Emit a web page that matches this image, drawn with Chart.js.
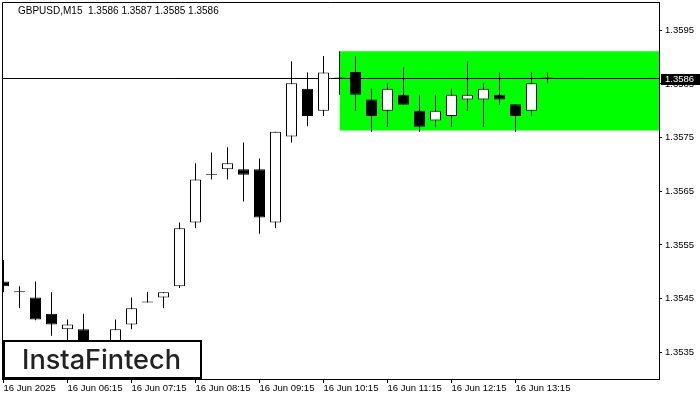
<!DOCTYPE html>
<html><head><meta charset="utf-8">
<script src="https://cdn.jsdelivr.net/npm/chart.js@4/dist/chart.umd.min.js"></script>
<style>html,body{margin:0;padding:0;background:#fff;}#wrap{width:700px;height:400px;}</style>
</head><body><div id="wrap"><canvas id="c" width="700" height="400"></canvas></div>
<script>
const symbolTitle = "GBPUSD,M15  1.3586 1.3587 1.3585 1.3586";
const times = ["05:15","05:30","05:45","06:00","06:15","06:30","06:45","07:00","07:15","07:30","07:45","08:00",
  "08:15","08:30","08:45","09:00","09:15","09:30","09:45","10:00","10:15","10:30","10:45","11:00",
  "11:15","11:30","11:45","12:00","12:15","12:30","12:45","13:00","13:15","13:30","13:45"];
const open  = [1.35482,1.35462,1.35452,1.35422,1.35393,1.35393,1.35365,1.35355,1.35402,1.35443,1.35452,1.35473,
  1.35592,1.35681,1.35691,1.35691,1.35691,1.35592,1.35752,1.35841,1.35800,1.35860,1.35872,1.35821,
  1.35800,1.35830,1.35800,1.35782,1.35790,1.35821,1.35821,1.35830,1.35812,1.35800,1.35860];
const high  = [1.35522,1.35473,1.35482,1.35462,1.35411,1.35422,1.35372,1.35411,1.35452,1.35463,1.35462,1.35592,
  1.35702,1.35722,1.35732,1.35741,1.35711,1.35761,1.35892,1.35871,1.35902,1.35911,1.35902,1.35841,
  1.35851,1.35881,1.35830,1.35830,1.35841,1.35892,1.35851,1.35871,1.35812,1.35871,1.35871];
const low   = [1.35462,1.35432,1.35410,1.35381,1.35365,1.35350,1.35335,1.35345,1.35393,1.35443,1.35432,1.35470,
  1.35581,1.35672,1.35672,1.35631,1.35571,1.35581,1.35741,1.35771,1.35790,1.35830,1.35800,1.35761,
  1.35770,1.35811,1.35761,1.35770,1.35770,1.35800,1.35770,1.35811,1.35761,1.35790,1.35851];
const close = [1.35473,1.35462,1.35411,1.35402,1.35402,1.35365,1.35350,1.35393,1.35432,1.35443,1.35462,1.35581,
  1.35672,1.35681,1.35702,1.35681,1.35601,1.35761,1.35851,1.35790,1.35871,1.35860,1.35830,1.35790,
  1.35841,1.35811,1.35770,1.35800,1.35830,1.35830,1.35841,1.35821,1.35790,1.35851,1.35860];
const xTickIndex  = [0,4,8,12,16,20,24,28,32];
const xTickLabels = ["16 Jun 2025","16 Jun 06:15","16 Jun 07:15","16 Jun 08:15","16 Jun 09:15",
  "16 Jun 10:15","16 Jun 11:15","16 Jun 12:15","16 Jun 13:15"];
const yTickValues = [1.3595,1.3585,1.3575,1.3565,1.3555,1.3545,1.3535];
const zoneStartIndex = 21;
const zoneTop = 1.35911;
const zoneBottom = 1.35763;
const bidPrice = 1.3586;
const bidLabel = "1.3586";
const logoText = "InstaFintech";

const X_MIN = -0.09375, X_MAX = 40.96875;
const Y_MIN = 1.353004, Y_MAX = 1.360025;
const FONT = "'Liberation Sans', Arial, sans-serif";

const wickData = times.map((t, i) => ({x: i, y: [low[i], high[i]]}));
const bodyData = times.map((t, i) => ({x: i, y: [open[i], close[i]]}));
const bodyColors = times.map((t, i) => close[i] > open[i] ? '#ffffff' : '#000000');

function noPad(s) { s.paddingTop = 0; s.paddingBottom = 0; s.paddingLeft = 0; s.paddingRight = 0; }

const overlay = {
  id: 'overlay',
  beforeDraw(chart) {
    const ctx = chart.ctx;
    ctx.save(); ctx.fillStyle = '#fff'; ctx.fillRect(0, 0, chart.width, chart.height); ctx.restore();
  },
  afterDraw(chart) {
    const ctx = chart.ctx, a = chart.chartArea, ys = chart.scales.y;
    ctx.save();
    ctx.strokeStyle = '#000'; ctx.lineWidth = 1;
    ctx.beginPath();
    ctx.moveTo(a.left + 0.5, a.bottom); ctx.lineTo(a.left + 0.5, a.top + 0.5); ctx.lineTo(a.right, a.top + 0.5);
    ctx.stroke();
    ctx.fillStyle = '#000'; ctx.font = '10px ' + FONT; ctx.textBaseline = 'middle'; ctx.textAlign = 'left';
    ctx.fillText(symbolTitle, 18, 11);
    const py = ys.getPixelForValue(bidPrice);
    ctx.fillStyle = '#000'; ctx.fillRect(a.right + 2, Math.round(py) - 5, 39, 11);
    ctx.fillStyle = '#fff'; ctx.font = '9.5px ' + FONT;
    ctx.fillText(bidLabel, a.right + 6, Math.round(py) + 0.5);
    ctx.fillStyle = '#fff'; ctx.fillRect(3, 340, 199, 39);
    ctx.strokeStyle = '#000'; ctx.lineWidth = 2; ctx.strokeRect(4, 341, 197, 37);
    let fs = 26; ctx.font = '500 ' + fs + 'px Inter, Roboto, sans-serif';
    const w = ctx.measureText(logoText).width; fs = fs * 159 / w;
    ctx.font = '500 ' + fs.toFixed(2) + 'px Inter, Roboto, sans-serif';
    ctx.fillStyle = '#222'; ctx.textBaseline = 'alphabetic';
    ctx.fillText(logoText, 22, 369);
    ctx.restore();
  }
};

new Chart(document.getElementById('c'), {
  type: 'bar',
  data: {
    datasets: [
      {type: 'line', label: 'zoneTop', data: [{x: zoneStartIndex, y: zoneTop}, {x: X_MAX, y: zoneTop}],
       fill: '+1', backgroundColor: '#00ff00', borderWidth: 0, pointRadius: 0, order: 10},
      {type: 'line', label: 'zoneBottom', data: [{x: zoneStartIndex, y: zoneBottom}, {x: X_MAX, y: zoneBottom}],
       fill: false, borderWidth: 0, pointRadius: 0, order: 9},
      {type: 'line', label: 'bid', data: [{x: X_MIN, y: bidPrice}, {x: X_MAX, y: bidPrice}],
       borderColor: '#000', borderWidth: 1, pointRadius: 0, fill: false, order: 5},
      {type: 'bar', label: 'wicks', data: wickData, backgroundColor: '#000', borderWidth: 0,
       grouped: false, maxBarThickness: 1, barPercentage: 1, categoryPercentage: 1, minBarLength: 1, inflateAmount: 0, order: 2},
      {type: 'bar', label: 'bodies', data: bodyData, backgroundColor: bodyColors, borderColor: '#000', borderWidth: 1,
       borderSkipped: false, grouped: false, maxBarThickness: 11, barPercentage: 1, categoryPercentage: 1,
       minBarLength: 1, inflateAmount: 0, order: 1}
    ]
  },
  options: {
    responsive: false, animation: false, devicePixelRatio: 1,
    layout: {padding: {top: 2, left: 2, right: 0, bottom: 0}},
    plugins: {legend: {display: false}, tooltip: {enabled: false}, title: {display: false}},
    scales: {
      x: {
        type: 'linear', position: 'bottom', min: X_MIN, max: X_MAX, offset: false,
        afterBuildTicks: s => { s.ticks = xTickIndex.map(v => ({value: v})); },
        afterFit: s => { s.height = 21; noPad(s); },
        grid: {offset: false, drawOnChartArea: false, drawTicks: true, tickLength: 4, color: '#000', tickColor: '#000'},
        border: {display: true, color: '#000', width: 1},
        ticks: {autoSkip: false, maxRotation: 0, minRotation: 0, align: 'start', padding: 0, color: '#000',
          font: {family: FONT, size: 9.5},
          callback: v => { const k = xTickIndex.indexOf(v); return k >= 0 ? xTickLabels[k] : ''; }}
      },
      y: {
        type: 'linear', position: 'right', min: Y_MIN, max: Y_MAX,
        afterBuildTicks: s => { s.ticks = yTickValues.map(v => ({value: v})); },
        afterFit: s => { s.width = 41; noPad(s); },
        grid: {drawOnChartArea: false, drawTicks: true, tickLength: 3, color: '#000', tickColor: '#000'},
        border: {display: true, color: '#000', width: 1},
        ticks: {padding: 3, color: '#000', font: {family: FONT, size: 9.5},
          callback: v => v.toFixed(4)}
      }
    }
  },
  plugins: [overlay]
});
</script></body></html>
